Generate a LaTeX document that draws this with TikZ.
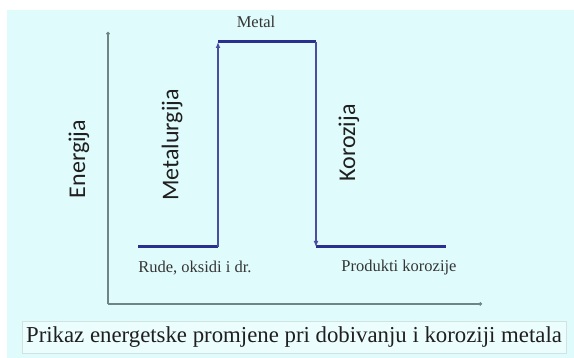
\documentclass[tikz,border=0pt]{standalone}
\usepackage{fontspec}
\setmainfont{Liberation Serif}
\newfontfamily\calib{Carlito}
\usetikzlibrary{arrows.meta}
\definecolor{bgc}{HTML}{E0FBFC}
\definecolor{capfill}{HTML}{ECFDFD}
\definecolor{capline}{HTML}{CFE3E3}
\definecolor{navy}{HTML}{2B2F8F}
\definecolor{axisc}{HTML}{6F8585}
\definecolor{labc}{HTML}{353535}
\begin{document}
\begin{tikzpicture}[x=1pt,y=-1pt,
  axisline/.style={draw=axisc,line width=1.2pt,-{Circle[length=3.5pt]}},
  level/.style={draw=navy,line width=3pt},
  jump/.style={draw=navy!85!white,line width=2pt,-{Latex[length=6pt,width=5pt]}},
  biglab/.style={font=\calib\fontsize{24}{28}\selectfont,text=black!88,rotate=90,inner sep=0pt},
  smalllab/.style={font=\fontsize{16.5}{19}\selectfont,text=labc,inner sep=0pt},
  captionbox/.style={draw=capline,fill=capfill,line width=0.6pt,minimum width=544pt,minimum height=32pt,
     font=\fontsize{22.8}{26}\selectfont,text=black!88,inner sep=0pt}]
\useasboundingbox (0,0) rectangle (574,358);
\fill[bgc] (7,10) rectangle (574,358);
% axes
\coordinate (O) at (108,304);
\coordinate (ytop) at (108,32);
\coordinate (xend) at (482,304);
\draw[axisline] (O) -- (ytop);
\draw[axisline] (O) -- (xend);
% energy levels
\coordinate (a1) at (138,247);
\coordinate (a2) at (218,247);
\coordinate (b1) at (218,42);
\coordinate (b2) at (316,42);
\coordinate (c1) at (316,247);
\coordinate (c2) at (446,247);
\draw[level] (a1) -- (a2);
\draw[level] (b1) -- (b2);
\draw[level] (c1) -- (c2);
\draw[jump] (a2) -- (b1);
\draw[jump] (b2) -- (c1);
% labels
\node[smalllab] (metal) at (256,22) {Metal};
\node[smalllab] (rude) at (195,268) {Rude, oksidi i dr.};
\node[smalllab] (prod) at (399,268) {Produkti korozije};
\node[biglab] (energ) at (79,159) {Energija};
\node[biglab] (metur) at (172,145) {Metalurgija};
\node[biglab] (koroz) at (349,143) {Korozija};
\node[captionbox] (cap) at (294,337) {Prikaz energetske promjene pri dobivanju i koroziji metala};
\end{tikzpicture}
\end{document}
